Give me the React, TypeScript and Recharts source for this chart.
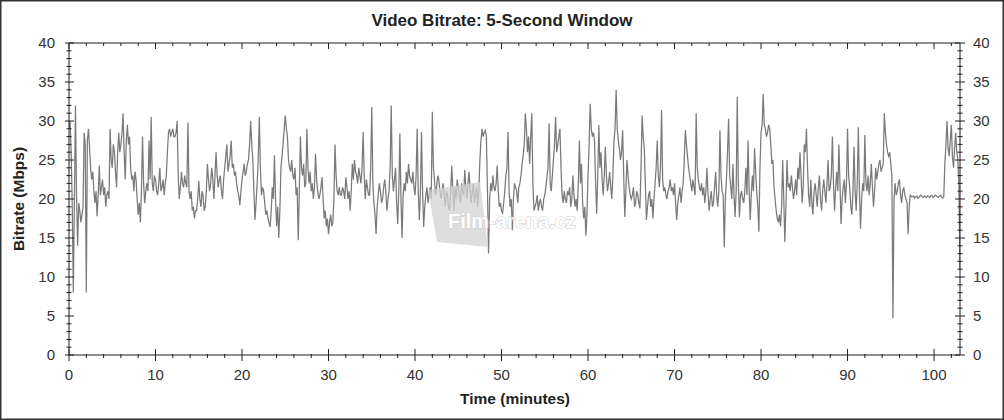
import React from 'react';
import { LineChart, Line, XAxis, YAxis } from 'recharts';

// Sampling step of the bitrate trace, in minutes
const STEP_MIN = 0.25;

// Bitrate (Mbps) at 0.25-minute steps (0, 0.25, 0.5, ...)
const bitrate00to17 = [
  29, 26, 8, 32, 14, 18.5, 18, 28.5, 8, 29, 24, 23.5, 19.5, 17.8, 24.3, 21.5, 20.5, 19, 21, 29,
  24, 26, 21.5, 28.5, 27, 31, 22.5, 29.5, 28, 22.5, 21, 22.5, 18, 17, 28, 19.5, 22, 27.5, 30.5, 21,
  22.5, 20.5, 24, 21.5, 20.5, 23, 28.5, 28, 29, 28, 30, 20, 23.5, 21.5, 22, 29.8, 20, 18.5, 17.5, 18.5,
  22.3, 19, 20.5, 19, 24.5, 21, 24, 20, 26,
];
const bitrate17to34 = [
  21.5, 23, 20, 24, 27, 24.5, 27.5, 24.5, 23.5, 21, 19.2,
  22.5, 24.5, 23.5, 25, 30, 25, 17.3, 22, 30.5, 20.5, 21, 18, 17.5, 16.4, 21.5, 25.6, 16.5, 15, 24, 27,
  30.7, 28, 24, 25, 22.5, 20.5, 14.7, 28, 23, 21.5, 29, 22, 21, 20, 25.8, 21, 20.5, 22.8, 17.5, 16.5,
  15.5, 18, 17, 27, 21, 21.5, 20.5, 21, 22.8, 20, 18.5, 24.5, 25, 23, 24, 22, 28.6, 20,
];
const bitrate34to52 = [
  21.5, 20.5,
  31.8, 19.5, 15.5, 20.5, 21, 20, 22.5, 18.5, 21, 32, 21, 24, 16.8, 28.4, 15, 22, 23.5, 24.5, 22.5, 23.5,
  20.5, 29, 17.3, 28.6, 16.4, 20.5, 19.5, 21.5, 31.2, 22.5, 21.5, 22.5, 20, 22, 19, 20.5, 18.5, 24.3, 18.5, 20,
  21.5, 19.5, 21, 23.7, 20, 23.5, 19.5, 22, 20.5, 19, 25, 29, 28.5, 28, 13, 22, 23, 21, 24.3, 19,
  18.5, 19.5, 23, 28.6, 19, 16, 22, 21,
];
const bitrate52to69 = [
  21.5, 23, 25.5, 31, 26, 24.5, 31, 18.5, 19.5, 18.5, 20, 18.5, 20.5, 22.8, 29.7, 21, 25, 30.5, 27, 29,
  20.5, 21, 19.5, 20.5, 19, 23, 19, 18.5, 27.5, 24.5, 17.5, 15.3, 23, 32.2, 28, 27.5, 18.1, 29.5, 26, 20.5,
  26.7, 21, 23.5, 20, 27.5, 34, 27.5, 25, 28.8, 17.7, 25, 21.5, 20, 21.5, 19.5, 20.5, 18.8, 30.7, 26.5, 17.3,
  20.5, 19, 17.5, 22, 27.5, 21.5, 31.4, 21, 20.5,
];
const bitrate69to86 = [
  21, 22.5, 21.5,
  22, 17.3, 20.5, 19.5, 22, 28.8, 25.5, 23, 21, 21.5, 31, 22.5, 21, 20.5, 19.5, 24, 18.5, 21, 19.5, 23.5,
  19, 28.8, 21, 13.8, 22.5, 30.3, 21.5, 24.5, 17.7, 33.1, 17.7, 21, 19.5, 24, 27.5, 17.3, 23, 26.5, 21, 15.8,
  28.5, 33.5, 29, 28.5, 29, 24.5, 21.5, 18.5, 17, 16.5, 25, 14.5, 25, 22, 23, 20, 22.5, 24, 26, 19.5,
  27, 29, 20.5, 22.5, 18, 22,
];
const bitrate86to103 = [
  19, 23, 18.5, 22.5, 19.5, 25, 21.5, 28, 18.5, 23.5, 27, 16.8, 21.5, 19.5,
  29, 21.5, 18, 26.7, 18.5, 29.2, 16.2, 22, 28.2, 21, 20.5, 24.5, 19, 24, 23.5, 25, 24, 31, 27, 25.5,
  24.5, 4.7, 22, 21, 22.5, 19.5, 21.5, 20, 15.5, 20.5, 20.3, 20.1, 20.4, 20.2, 20.5, 20.2, 20.3, 20.4, 20.2, 20.5,
  20.3, 20.4, 20.2, 20.5, 20.1, 24.5, 30, 25.5, 29.5, 24, 28.5, 25, 11,
];

// In-between readings (band edges) at 0.125, 0.375, ... minutes
const bitrateMid00to17 = [
  30, 19, 20, 20, 19.5, 17, 19, 27, 27.5, 26.5, 22.5, 21, 21, 20.5, 20.5, 22.5, 21.5, 20.5, 20, 25,
  27, 23.5, 26, 26, 28.5, 26, 27.5, 27, 24, 23, 23.5, 20, 19.5, 21, 22, 21, 21, 22.5, 22, 23,
  21, 22, 21, 22.5, 22, 26, 29, 28.5, 28, 28.5, 23, 21.5, 22, 23, 21.5, 21, 21, 19, 18.5, 20,
  20, 21, 18.5, 21, 22.5, 22, 22.5, 23, 23,
];
const bitrateMid17to34 = [
  22.5, 21, 22.5, 25.5, 23.5, 25.5, 24, 23, 22, 20.5, 21,
  23.5, 23, 24.5, 27, 27, 21, 19.5, 25, 24, 21.5, 19.5, 18.5, 17, 18.5, 20, 20, 19, 18.5, 25.5, 29,
  29, 25, 23.5, 23, 24, 21.5, 21, 24, 24.5, 22, 24, 23.5, 22, 21.5, 22.5, 20, 21.5, 20, 18.5, 17.5,
  17, 16.5, 20, 23, 20.5, 20.5, 21.5, 20, 21.5, 21, 21, 22.5, 23.5, 22, 23, 24, 23, 22.5,
];
const bitrateMid34to52 = [
  20.5, 24,
  22, 18, 19, 22, 19.5, 21.5, 21, 20, 24, 23, 22.5, 19.5, 21, 20, 20.5, 21, 22, 23, 22, 21.5,
  23, 21, 21, 21, 19, 21.5, 20.5, 20, 24, 20.5, 23, 21, 21, 20.5, 21, 19, 21, 21, 21.5, 22.5,
  20.5, 22, 20.5, 21.5, 22, 21, 21, 19.5, 21.5, 21, 27.5, 28, 28.8, 21, 20, 21, 21.5, 22, 21, 19.5,
  18.2, 21, 24, 21, 20, 20, 21.5, 19.5,
];
const bitrateMid52to69 = [
  22, 24.5, 27, 29, 28, 28, 22, 19, 20.5, 19.5, 19, 20, 21.5, 24, 22, 23, 27, 26, 28, 24,
  19.5, 20, 21, 21.5, 20, 20.5, 20, 22, 22, 19.5, 19, 18, 27, 29, 28.5, 22, 23, 24, 22.5, 23,
  23, 22, 21.5, 23, 29, 29, 26.5, 26, 23, 21, 23, 20.5, 20.5, 19, 21, 19.5, 24, 28, 22, 19,
  21, 20, 20, 24, 23, 24, 22.5, 21.5, 20,
];
const bitrateMid69to86 = [
  21.5, 21, 20.5,
  19.5, 19.5, 21.5, 21, 25, 27, 24, 22, 22.5, 20.5, 24, 21.5, 22, 21.5, 21, 20.5, 20, 19, 21.5, 20.5,
  21, 23, 20.5, 20, 26, 23, 20, 20.5, 21, 22, 20.5, 20, 21, 20.5, 21, 20.5, 21, 23.5, 19, 24,
  29.5, 29.5, 28, 29.5, 27, 25, 20, 17.5, 18, 19, 20, 19, 21.5, 21, 21.5, 21, 20.5, 22.5, 23, 21.5,
  26, 24, 19, 19.5, 21, 20.5,
];
const bitrateMid86to103 = [
  21.5, 20, 21, 21, 22, 21, 23, 22, 21.5, 21, 22, 20, 22.5, 22,
  23, 19, 21, 21, 22, 21, 20, 21, 22, 23, 22, 21.5, 21, 22.5, 24.5, 23.5, 24.5, 28.5, 26, 26,
  23, 20, 20.5, 22, 20.5, 21, 20.5, 19.5, 19, 20.3, 20.4, 20.3, 20.1, 20.4, 20.3, 20.4, 20.2, 20.3, 20.4, 20.2,
  20.5, 20.3, 20.4, 20.2, 20.3, 27, 26.5, 27.5, 25.5, 26.5, 26, 22,
];

const xTicks = [
  0, 2, 4, 6, 8, 10, 12, 14, 16, 18, 20, 22, 24, 26, 28, 30, 32, 34, 36, 38, 40, 42, 44, 46, 48, 50,
  52, 54, 56, 58, 60, 62, 64, 66, 68, 70, 72, 74, 76, 78, 80, 82, 84, 86, 88, 90, 92, 94, 96, 98, 100, 102,
];
const yTicks = [
  0, 1, 2, 3, 4, 5, 6, 7, 8, 9, 10, 11, 12, 13, 14, 15, 16, 17, 18, 19, 20,
  21, 22, 23, 24, 25, 26, 27, 28, 29, 30, 31, 32, 33, 34, 35, 36, 37, 38, 39, 40,
];
const X_DOMAIN: [number, number] = [0, 103];
const Y_DOMAIN: [number, number] = [0, 40];

const TITLE = 'Video Bitrate: 5-Second Window';
const X_TITLE = 'Time (minutes)';
const Y_TITLE = 'Bitrate (Mbps)';
const WATERMARK = 'Film-arena.cz';

const mainValues = [
  ...bitrate00to17,
  ...bitrate17to34,
  ...bitrate34to52,
  ...bitrate52to69,
  ...bitrate69to86,
  ...bitrate86to103,
];
const midValues = [
  ...bitrateMid00to17,
  ...bitrateMid17to34,
  ...bitrateMid34to52,
  ...bitrateMid52to69,
  ...bitrateMid69to86,
  ...bitrateMid86to103,
];
const data: { t: number; bitrate: number }[] = [];
mainValues.forEach((v, i) => {
  data.push({ t: Math.round(i * STEP_MIN * 1000) / 1000, bitrate: v });
  if (i < midValues.length) {
    data.push({ t: Math.round((i + 0.5) * STEP_MIN * 1000) / 1000, bitrate: midValues[i] });
  }
});

const FONT = '"Liberation Sans", Arial, Helvetica, sans-serif';
const AXIS = '#1e1e1e';
const LABEL = '#333333';
const LINE = '#7a7a7a';
const TICK_FS = 15;

const BottomTick = (props: any) => {
  const { x, y, payload } = props;
  const v = payload.value;
  const major = v % 10 === 0;
  return (
    <g>
      <line x1={x} x2={x} y1={major ? y - 6 : y - 1} y2={major ? y + 6 : y + 3} stroke={AXIS} strokeWidth={1} />
      {major && (
        <text x={x} y={y + 24.5} textAnchor="middle" fontSize={TICK_FS} fill={LABEL} fontFamily={FONT}>
          {v}
        </text>
      )}
    </g>
  );
};

const TopTick = (props: any) => {
  const { x, y, payload } = props;
  const major = payload.value % 10 === 0;
  return <line x1={x} x2={x} y1={y} y2={y + (major ? 6 : 3)} stroke={AXIS} strokeWidth={1} />;
};

const LeftTick = (props: any) => {
  const { x, y, payload } = props;
  const v = payload.value;
  const major = v % 5 === 0;
  return (
    <g>
      <line x1={major ? x - 4 : x - 2.5} x2={major ? x + 5 : x + 2.5} y1={y} y2={y} stroke={AXIS} strokeWidth={1} />
      {major && (
        <text x={x - 14} y={y + 5} textAnchor="end" fontSize={TICK_FS} fill={LABEL} fontFamily={FONT}>
          {v}
        </text>
      )}
    </g>
  );
};

const RightTick = (props: any) => {
  const { x, y, payload } = props;
  const v = payload.value;
  const major = v % 5 === 0;
  return (
    <g>
      <line x1={major ? x - 5 : x - 2.5} x2={major ? x + 5 : x + 2.5} y1={y} y2={y} stroke={AXIS} strokeWidth={1} />
      {major && (
        <text x={x + 13} y={y + 5} textAnchor="start" fontSize={TICK_FS} fill={LABEL} fontFamily={FONT}>
          {v}
        </text>
      )}
    </g>
  );
};

export default function App() {
  return (
    <div style={{ position: 'absolute', left: 0, top: 0, width: 1004, height: 420, background: '#fff' }}>
      <LineChart width={1004} height={420} data={data} margin={{ top: 33, right: 4, bottom: 35, left: 29 }}>
        <XAxis
          xAxisId="bottom"
          dataKey="t"
          type="number"
          domain={X_DOMAIN}
          allowDataOverflow
          ticks={xTicks}
          interval={0}
          tickSize={0}
          tickMargin={0}
          tickLine={false}
          axisLine={{ stroke: AXIS }}
          tick={<BottomTick />}
          height={30}
        />
        <XAxis
          xAxisId="top"
          orientation="top"
          dataKey="t"
          type="number"
          domain={X_DOMAIN}
          allowDataOverflow
          ticks={xTicks}
          interval={0}
          tickSize={0}
          tickMargin={0}
          tickLine={false}
          axisLine={{ stroke: AXIS }}
          tick={<TopTick />}
          height={10}
        />
        <YAxis
          yAxisId="left"
          type="number"
          domain={Y_DOMAIN}
          allowDataOverflow
          ticks={yTicks}
          interval={0}
          tickSize={0}
          tickMargin={0}
          tickLine={false}
          axisLine={{ stroke: AXIS }}
          tick={<LeftTick />}
          width={40}
        />
        <YAxis
          yAxisId="right"
          orientation="right"
          type="number"
          domain={Y_DOMAIN}
          allowDataOverflow
          ticks={yTicks}
          interval={0}
          tickSize={0}
          tickMargin={0}
          tickLine={false}
          axisLine={{ stroke: AXIS }}
          tick={<RightTick />}
          width={40}
        />
        <Line
          xAxisId="bottom"
          yAxisId="left"
          type="linear"
          dataKey="bitrate"
          stroke={LINE}
          strokeWidth={1.25}
          dot={false}
          activeDot={false}
          isAnimationActive={false}
        />
        <Line
          xAxisId="top"
          yAxisId="right"
          type="linear"
          dataKey="bitrate"
          stroke="none"
          strokeOpacity={0}
          dot={false}
          activeDot={false}
          isAnimationActive={false}
        />
      </LineChart>
      <svg
        width={1004}
        height={420}
        style={{ position: 'absolute', left: 0, top: 0, pointerEvents: 'none' }}
      >
        <g opacity={0.75}>
          <polygon points="428,190 480,182 488,247 437,242" fill="#d4d4d4" />
          <text
            x={448}
            y={228}
            fontSize={20}
            fontWeight="bold"
            fontFamily={FONT}
            fill="#ffffff"
            stroke="#c4c4c4"
            strokeWidth={1.2}
            style={{ paintOrder: 'stroke' }}
          >
            {WATERMARK}
          </text>
        </g>
        <text x={502} y={26} textAnchor="middle" fontSize={17} fontWeight="bold" fontFamily={FONT} fill="#222">
          {TITLE}
        </text>
        <text x={515} y={403.5} textAnchor="middle" fontSize={15.5} fontWeight="bold" fontFamily={FONT} fill="#222">
          {X_TITLE}
        </text>
        <text
          x={23.5}
          y={199}
          textAnchor="middle"
          fontSize={15.5}
          fontWeight="bold"
          fontFamily={FONT}
          fill="#222"
          transform="rotate(-90, 23.5, 199)"
        >
          {Y_TITLE}
        </text>
        <rect x={0.75} y={0.75} width={1002.5} height={418.5} fill="none" stroke="#333" strokeWidth={1.5} />
      </svg>
    </div>
  );
}
